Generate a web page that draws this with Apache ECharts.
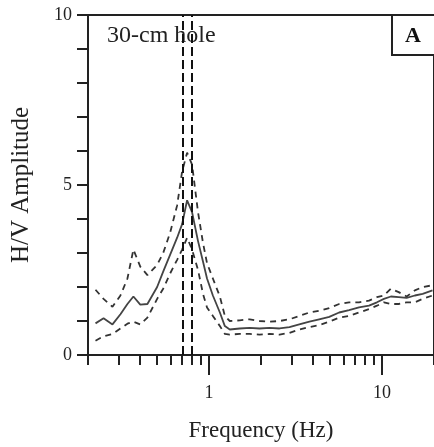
<!DOCTYPE html>
<html>
<head>
<meta charset="utf-8">
<script src="https://cdn.jsdelivr.net/npm/echarts@6/dist/echarts.min.js"></script>
<style>
html,body{margin:0;padding:0;background:#fff;}
#c{width:434px;height:447px;}
</style>
</head>
<body>
<div id="c"></div>
<script>
// Frequencies (Hz)
var freqs = [0.221,0.246,0.277,0.308,0.338,0.366,0.401,0.441,0.502,0.544,0.597,0.655,0.700,0.748,0.799,0.865,0.924,0.975,1.054,1.157,1.236,1.32,1.507,1.72,1.96,2.24,2.56,2.92,3.33,3.81,4.34,4.96,5.66,6.46,7.37,8.42,9.36,10.27,11.27,12.5,13.9,15.5,17.2,19.6];
// Mean H/V
var meanHV = [0.93,1.08,0.9,1.2,1.5,1.72,1.48,1.5,2.0,2.45,2.95,3.45,3.85,4.55,4.2,3.35,2.75,2.25,1.75,1.25,0.85,0.75,0.78,0.8,0.78,0.8,0.78,0.82,0.9,0.98,1.05,1.12,1.25,1.32,1.4,1.45,1.55,1.65,1.72,1.7,1.68,1.75,1.8,1.9];
// Mean + std
var upperHV = [1.92,1.65,1.42,1.75,2.25,3.1,2.6,2.35,2.65,3.0,3.6,4.4,5.4,5.95,5.6,4.2,3.3,2.7,2.25,1.72,1.15,1.0,1.02,1.05,1.0,0.98,1.0,1.05,1.15,1.25,1.3,1.38,1.5,1.55,1.55,1.6,1.7,1.75,1.95,1.85,1.72,1.9,2.0,2.05];
// Mean - std
var lowerHV = [0.42,0.55,0.62,0.78,0.92,0.98,0.9,1.1,1.65,1.95,2.4,2.8,3.1,3.45,3.1,2.5,1.8,1.4,1.15,0.85,0.62,0.6,0.62,0.62,0.6,0.62,0.6,0.65,0.75,0.82,0.88,0.98,1.1,1.15,1.25,1.35,1.45,1.55,1.5,1.5,1.55,1.55,1.65,1.75];
// Peak frequency bounds (vertical dashed lines)
var peakFreqs = [0.71, 0.80];
// Axis ticks
var xMinorTicks = [0.2,0.3,0.4,0.5,0.6,0.7,0.8,0.9,2,3,4,5,6,7,8,9,20];
var xMajorTicks = [1,10];
var xTickLabels = [1,10];
var yTickLabels = [0,5,10];

function pairs(xs, ys){ return xs.map(function(x,i){ return [x, ys[i]]; }); }

var serif = 'Liberation Serif';
var chart = echarts.init(document.getElementById('c'));
chart.setOption({
  animation: false,
  grid: {left: 88, top: 15, width: 346, height: 344, show: true, borderColor: '#222', borderWidth: 2, backgroundColor: 'transparent'},
  xAxis: [{
    type: 'log', logBase: 10, min: 0.2, max: 20, gridIndex: 0,
    axisLine: {lineStyle: {color: '#222', width: 2}},
    axisTick: {show: true, customValues: xMinorTicks, length: 10, lineStyle: {color: '#222', width: 2}},
    axisLabel: {customValues: xTickLabels, fontFamily: serif, fontSize: 18, color: '#222', margin: 29},
    splitLine: {show: false}, minorTick: {show: false},
    name: 'Frequency (Hz)', nameLocation: 'middle', nameGap: 64,
    nameTextStyle: {fontFamily: serif, fontSize: 23, color: '#222'}
  }, {
    type: 'log', logBase: 10, min: 0.2, max: 20, gridIndex: 0, position: 'bottom',
    axisLine: {show: false},
    axisTick: {show: true, customValues: xMajorTicks, length: 20, lineStyle: {color: '#222', width: 2}},
    axisLabel: {show: false}, splitLine: {show: false}
  }],
  yAxis: {
    type: 'value', min: 0, max: 10, interval: 1,
    axisLine: {show: true, lineStyle: {color: '#222', width: 2}},
    axisTick: {show: true, length: 11, lineStyle: {color: '#222', width: 2}},
    axisLabel: {customValues: yTickLabels, fontFamily: serif, fontSize: 18, color: '#222', margin: 16},
    splitLine: {show: false},
    name: 'H/V Amplitude', nameLocation: 'middle', nameGap: 54,
    nameTextStyle: {fontFamily: serif, fontSize: 25, color: '#222'}
  },
  series: [{
    type: 'line', data: pairs(freqs, upperHV), symbol: 'none',
    lineStyle: {color: '#333', width: 1.8, type: [6, 5]}
  }, {
    type: 'line', data: pairs(freqs, lowerHV), symbol: 'none',
    lineStyle: {color: '#333', width: 1.8, type: [6, 5]}
  }, {
    type: 'line', data: pairs(freqs, meanHV), symbol: 'none',
    lineStyle: {color: '#444', width: 1.8},
    markLine: {
      silent: true, symbol: ['none', 'none'], label: {show: false},
      lineStyle: {color: '#111', width: 2, type: [9, 4]},
      data: peakFreqs.map(function(f){ return {xAxis: f}; })
    }
  }],
  graphic: [{
    type: 'text', left: 107, top: 24,
    style: {text: '30-cm hole', font: '24px "Liberation Serif"', fill: '#222'}
  }, {
    type: 'rect', shape: {x: 392, y: 15, width: 60, height: 40},
    style: {fill: '#fff', stroke: '#222', lineWidth: 2}, z: 10
  }, {
    type: 'text', x: 413, y: 36, z: 11,
    style: {text: 'A', font: 'bold 22px "Liberation Serif"', fill: '#111', align: 'center', verticalAlign: 'middle'}
  }]
});
</script>
</body>
</html>
